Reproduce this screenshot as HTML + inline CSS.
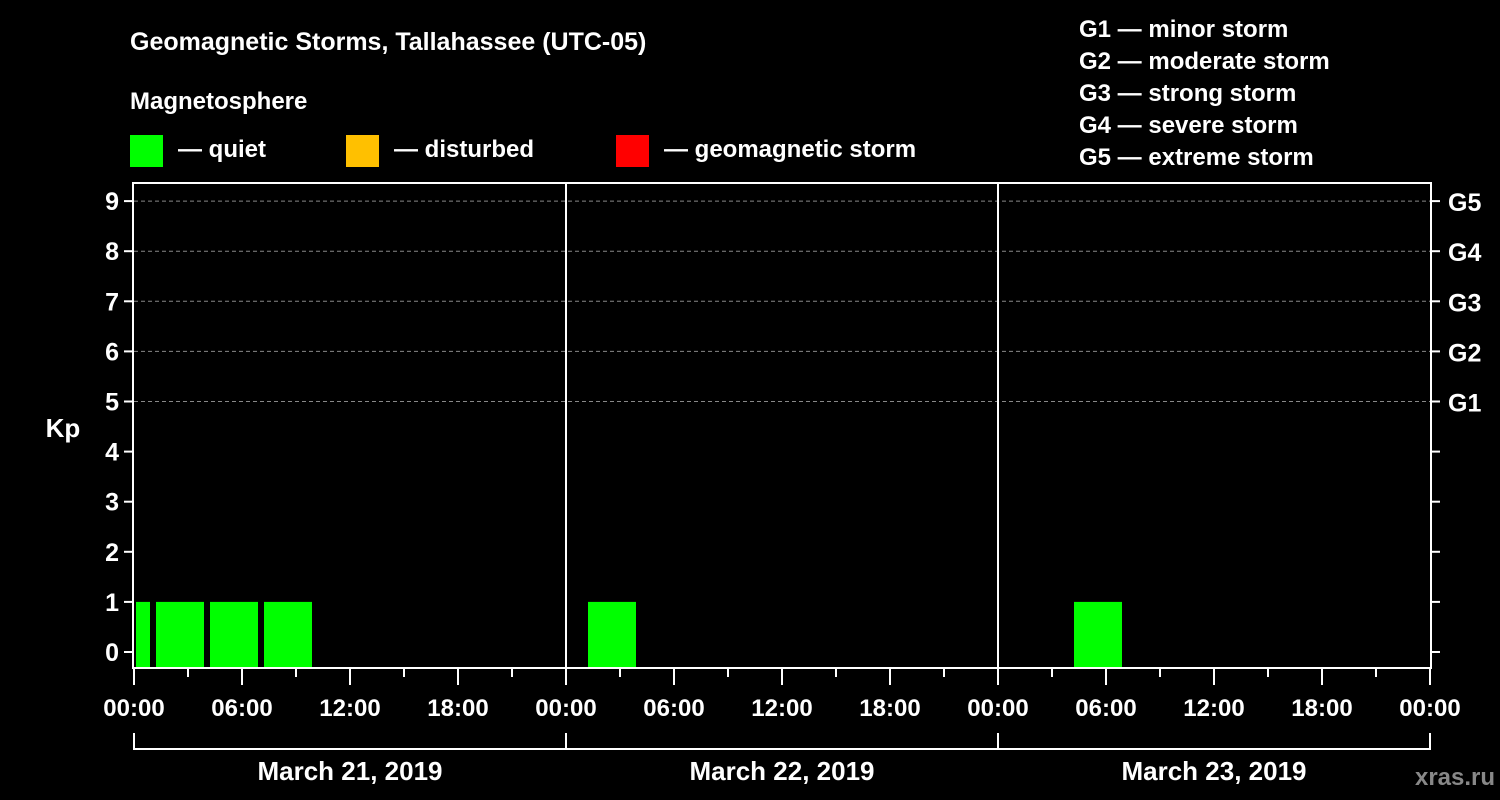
<!DOCTYPE html>
<html><head><meta charset="utf-8"><style>
html,body{margin:0;padding:0;background:#000;}
svg{display:block;font-family:"Liberation Sans",Arial,sans-serif;font-weight:bold;}
</style></head><body>
<svg id="chart" width="1500" height="800" viewBox="0 0 1500 800">
<rect width="1500" height="800" fill="#000"/>
<text x="130" y="50" fill="#fff" font-size="25">Geomagnetic Storms, Tallahassee (UTC-05)</text>
<text x="130" y="109" fill="#fff" font-size="24">Magnetosphere</text>
<g><rect x="130" y="135" width="33" height="32" fill="#00ff00"/><text x="178" y="157" fill="#fff" font-size="24">— quiet</text></g>
<g><rect x="346" y="135" width="33" height="32" fill="#ffc000"/><text x="394" y="157" fill="#fff" font-size="24">— disturbed</text></g>
<g><rect x="616" y="135" width="33" height="32" fill="#ff0000"/><text x="664" y="157" fill="#fff" font-size="24">— geomagnetic storm</text></g>
<g fill="#fff" font-size="24">
<text x="1079" y="37">G1 — minor storm</text>
<text x="1079" y="69">G2 — moderate storm</text>
<text x="1079" y="101">G3 — strong storm</text>
<text x="1079" y="133">G4 — severe storm</text>
<text x="1079" y="165">G5 — extreme storm</text>
</g>
<text x="63" y="437" fill="#fff" font-size="26" text-anchor="middle">Kp</text>
<text x="1455" y="785" fill="#888" font-size="24" text-anchor="middle">xras.ru</text>
<g id="grid"></g><g id="bars"></g><g id="axes"></g>
</svg>
<script>
const days = ["March 21, 2019","March 22, 2019","March 23, 2019"];
const barStartHours = [-2, 1, 4, 7, 25, 52];
const barDurations = [3, 3, 3, 3, 3, 3];
const kpValues = [1, 1, 1, 1, 1, 1];
const yTicks = [0,1,2,3,4,5,6,7,8,9];
const gLabels = ["G1","G2","G3","G4","G5"];
const gLevels = [5,6,7,8,9];
const xTickLabels = ["00:00","06:00","12:00","18:00"];

const NS="http://www.w3.org/2000/svg";
const X0=134, HW=18, TOTAL=72, X1=X0+TOTAL*HW;
const x = h => X0 + Math.max(0, Math.min(TOTAL, h))*HW;
const y = k => 652 - k*50.1;
const TOP=183, BOT=668;
function mk(tag, attrs, parent, text){
  const e=document.createElementNS(NS,tag);
  for(const k in attrs) e.setAttribute(k, attrs[k]);
  if(text!==undefined) e.textContent=text;
  document.getElementById(parent).appendChild(e);
  return e;
}
// grid lines
gLevels.forEach((g,i)=>{
  const l=mk('line',{x1:X0,x2:X1,y1:y(g),y2:y(g),stroke:'#888','stroke-dasharray':'4,3','stroke-width':1},'grid');
  
  
});
// bars
barStartHours.forEach((s,i)=>{
  const a=x(s), b=x(s+barDurations[i]);
  const xl=(s<0)?a+2:a+4, xr=b-2;
  const k=kpValues[i];
  const col = k>=5?'#ff0000':(k>=4?'#ffc000':'#00ff00');
  const r=mk('rect',{x:xl,y:y(k),width:xr-xl,height:BOT-1-y(k),fill:col},'bars');
  
  
});
// frame
const fr=mk('rect',{x:X0-1,y:TOP,width:X1-X0+2,height:BOT-TOP,fill:'none',stroke:'#fff','stroke-width':2},'axes');


for(let d=1; d<days.length; d++){
  const l=mk('line',{x1:x(d*24),x2:x(d*24),y1:TOP,y2:BOT,stroke:'#fff','stroke-width':2},'axes');
  
  
}
// y ticks
yTicks.forEach(k=>{
  mk('line',{x1:X0-10,x2:X0-1,y1:y(k),y2:y(k),stroke:'#fff','stroke-width':2},'axes');
  mk('line',{x1:X1+1,x2:X1+10,y1:y(k),y2:y(k),stroke:'#fff','stroke-width':2},'axes');
  const t=mk('text',{x:X0-15,y:y(k)+9,fill:'#fff','font-size':25,'text-anchor':'end'},'axes',String(k));
  
  
});
gLevels.forEach((g,i)=>{
  const t=mk('text',{x:X1+18,y:y(g)+10,fill:'#fff','font-size':25},'axes',gLabels[i]);
  
  
});
// x ticks
for(let h=0; h<=TOTAL; h+=3){
  const major = h%6===0;
  mk('line',{x1:x(h),x2:x(h),y1:BOT,y2:major?685:677,stroke:'#fff','stroke-width':2},'axes');
  if(major){
    const t=mk('text',{x:x(h),y:716,fill:'#fff','font-size':24,'text-anchor':'middle'},'axes',xTickLabels[(h/6)%4]);
    
    
  }
}
// day brackets
mk('line',{x1:X0,x2:X1,y1:749,y2:749,stroke:'#fff','stroke-width':2},'axes');
for(let d=0; d<=days.length; d++) mk('line',{x1:x(d*24),x2:x(d*24),y1:733,y2:750,stroke:'#fff','stroke-width':2},'axes');
days.forEach((dl,d)=>{
  const t=mk('text',{x:x(d*24+12),y:780,fill:'#fff','font-size':26,'text-anchor':'middle'},'axes',dl);
  
  
});
</script>
</body></html>
